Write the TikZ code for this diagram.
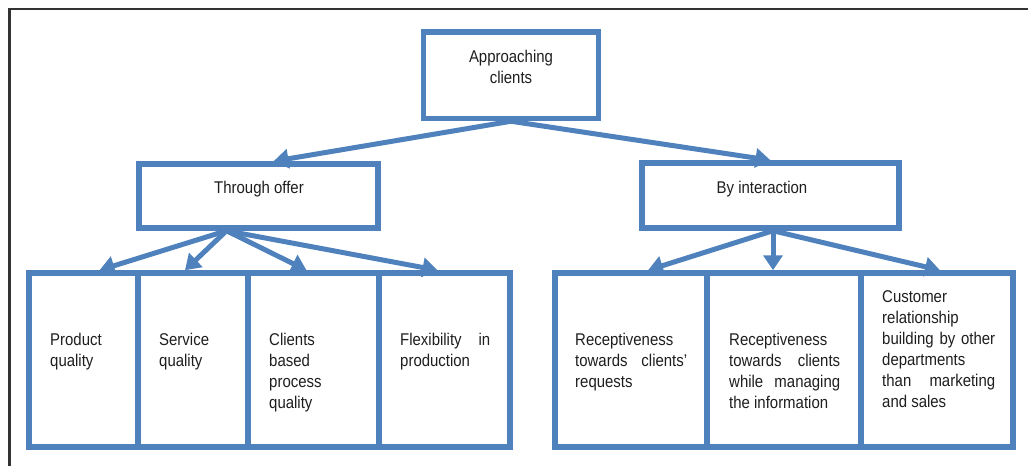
\documentclass[tikz,border=0pt]{standalone}
\usepackage{fontspec}
\setmainfont{Liberation Sans}[FakeStretch=0.88]
\usetikzlibrary{arrows.meta}

\definecolor{offblue}{HTML}{4F81BD}
\definecolor{ink}{HTML}{1E1E1E}
\hyphenpenalty=10000
\exhyphenpenalty=10000
\tolerance=9999
\emergencystretch=3em

\begin{document}
\begin{tikzpicture}[x=1pt, y=-1pt,
    box/.style={draw=offblue, line width=5.5pt, inner sep=0pt},
    lbl/.style={text=ink, font=\fontsize{17}{21}\selectfont, inner sep=0pt},
    para/.style={lbl, anchor=base west, text width=#1, align=justify},
    flow/.style={draw=offblue, line width=5pt, -{Triangle[width=19pt,length=15pt]}}]
    \useasboundingbox (0,0) rectangle (1028,466);
    % Frame
    \draw[line width=2.5pt, black!80] (9.5,466) -- (9.5,9) -- (1028,9);
    % Root and the two ways
    \node[box, minimum width=175pt, minimum height=86.5pt] (ac) at (511,75.25) {};
    \node[box, minimum width=239pt, minimum height=64pt] (to) at (258.5,196) {};
    \node[box, minimum width=257pt, minimum height=65pt] (bi) at (770.5,195.5) {};
    \node[lbl, anchor=base, text width=120pt, align=center] (ac-t) at (511,62) {Approaching\\clients};
    \node[lbl, anchor=base] (to-t) at (259,193.3) {Through offer};
    \node[lbl, anchor=base] (bi-t) at (762,193.3) {By interaction};
    % Offer row
    \node[box, minimum width=109pt, minimum height=174pt] (p1) at (83.5,360) {};
    \node[box, minimum width=110pt, minimum height=174pt] (p2) at (193,360) {};
    \node[box, minimum width=131pt, minimum height=174pt] (p3) at (313.5,360) {};
    \node[box, minimum width=131pt, minimum height=174pt] (p4) at (444.5,360) {};
    \node[para=70pt] (p1-t) at (50,345) {Product quality};
    \node[para=70pt] (p2-t) at (159,345) {Service quality};
    \node[para=86pt] (p3-t) at (269,345) {Clients based process quality};
    \node[para=90pt] (p4-t) at (400,345) {Flexibility in production};
    % Interaction row
    \node[box, minimum width=152pt, minimum height=174pt] (r1) at (631,360) {};
    \node[box, minimum width=154pt, minimum height=174pt] (r2) at (784,360) {};
    \node[box, minimum width=152pt, minimum height=174pt] (r3) at (937,360) {};
    \node[para=112pt] (r1-t) at (575,345) {Receptiveness towards clients' requests};
    \node[para=111pt] (r2-t) at (729,345) {Receptiveness towards clients while managing the information};
    \node[para=113pt] (r3-t) at (882,302) {Customer relationship building by other departments than marketing and sales};
    % Arrows
    \draw[flow] (ac.south) -- ([xshift=15pt]to.north);
    \draw[flow] (ac.south) -- (bi.north);
    \coordinate (to-o) at ([xshift=-32pt]to.south);
    \draw[flow] (to-o) -- ([xshift=16pt]p1.north);
    \draw[flow] (to-o) -- ([xshift=-8pt]p2.north);
    \draw[flow] (to-o) -- ([xshift=-7pt]p3.north);
    \draw[flow] (to-o) -- ([xshift=-7pt]p4.north);
    \coordinate (bi-o) at ([xshift=2.5pt]bi.south);
    \draw[flow] (bi-o) -- ([xshift=17pt]r1.north);
    \draw[flow] (bi-o) -- ([xshift=-11pt]r2.north);
    \draw[flow] (bi-o) -- ([xshift=3pt]r3.north);
\end{tikzpicture}
\end{document}
